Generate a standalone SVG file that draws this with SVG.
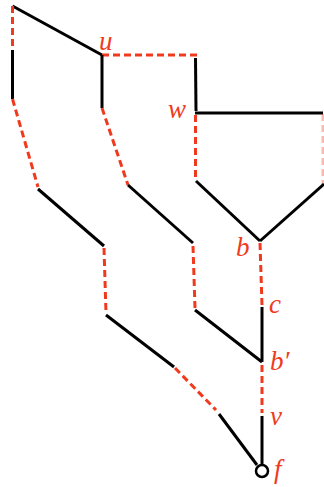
<svg xmlns="http://www.w3.org/2000/svg" width="324" height="487" viewBox="0 0 324 487">
<style>
.s{stroke:#000;stroke-width:3;fill:none;stroke-linecap:butt}
.d{stroke:#f03a1e;stroke-width:3;fill:none;stroke-dasharray:7 4}
.l{font-family:'Liberation Serif','Times New Roman',serif;font-style:italic;font-size:27px;fill:#f03a1e}
</style>
<rect width="324" height="487" fill="#fff"/>
<g id="connectors">
<line class="s" x1="12.5" y1="6" x2="102" y2="55"/>
<line class="d" x1="12.5" y1="6" x2="12.5" y2="50"/>
<line class="s" x1="12.5" y1="50" x2="12.5" y2="99"/>
<line class="d" x1="12.5" y1="99" x2="38" y2="187"/>
<line class="s" x1="38" y1="189" x2="104" y2="246"/>
<line class="d" x1="104" y1="248" x2="106" y2="313"/>
<line class="s" x1="106" y1="315" x2="174" y2="367"/>
<line class="d" x1="175" y1="368" x2="216" y2="410"/>
<line class="s" x1="219" y1="414" x2="257" y2="465"/>
<line class="d" x1="102" y1="55" x2="198" y2="55"/>
<line class="s" x1="102" y1="55" x2="102" y2="108"/>
<line class="d" x1="102" y1="108" x2="128" y2="185"/>
<line class="s" x1="128" y1="185" x2="193" y2="243"/>
<line class="d" x1="193" y1="246" x2="195" y2="308"/>
<line class="s" x1="195" y1="310" x2="262" y2="362"/>
<line class="s" x1="195.5" y1="58" x2="196" y2="111"/>
<line class="s" x1="195" y1="113" x2="323" y2="113"/>
<line class="d" x1="195.5" y1="115" x2="195.5" y2="180"/>
<line class="d" x1="323" y1="114" x2="323" y2="186" opacity="0.35"/>
<line class="s" x1="196" y1="181" x2="260" y2="241"/>
<line class="s" x1="324" y1="184" x2="260" y2="241"/>
<line class="d" x1="260" y1="243" x2="262" y2="305"/>
<line class="s" x1="262" y1="307" x2="262" y2="362"/>
<line class="d" x1="262" y1="365" x2="262" y2="413"/>
<line class="s" x1="262" y1="416" x2="262" y2="465"/>
</g>
<g id="f"><circle cx="262" cy="471" r="6" fill="#fff" stroke="#000" stroke-width="2.5"/><text class="l" x="274" y="478">f</text></g>
<g id="u"><text class="l" x="99" y="50">u</text></g>
<g id="w"><text class="l" x="168" y="118">w</text></g>
<g id="b"><text class="l" x="236" y="256">b</text></g>
<g id="c"><text class="l" x="269" y="313">c</text></g>
<g id="bp"><text class="l" x="270" y="370">b′</text></g>
<g id="v"><text class="l" x="270" y="425">v</text></g>
</svg>
